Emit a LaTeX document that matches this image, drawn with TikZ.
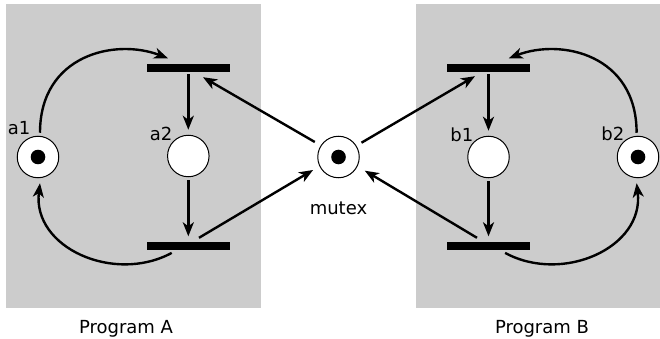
\documentclass[tikz,border=0pt]{standalone}
\usepackage{fontspec}
\setmainfont{DejaVu Sans}
\usetikzlibrary{arrows.meta,calc}
\definecolor{panel}{RGB}{204,204,204}
\begin{document}
\begin{tikzpicture}[x=1pt,y=-1pt,
  place/.style={circle,draw=black,line width=1pt,fill=white,minimum size=41.5pt,inner sep=0pt},
  token/.style={circle,fill=black,minimum size=14.6pt,inner sep=0pt},
  trans/.style={rectangle,fill=black,minimum width=83pt,minimum height=8pt,inner sep=0pt},
  arc/.style={line width=2.4pt,-{Stealth[length=14pt,width=11pt,inset=4pt]}},
  lbl/.style={font=\fontsize{18}{21}\selectfont,inner sep=0pt},
  bgbox/.style={fill=panel,draw=none}]
\useasboundingbox (0,0) rectangle (660,339);
\fill[bgbox] (6,4) rectangle (261,308);
\fill[bgbox] (416,4) rectangle (660,308);
% places
\node[place] (a1) at (38,157) {};
\node[token] (a1t) at (a1) {};
\node[place] (a2) at (188.3,156) {};
\node[place] (mx) at (338.5,157) {};
\node[token] (mxt) at (mx) {};
\node[place] (b1) at (488.5,157) {};
\node[place] (b2) at (638,157) {};
\node[token] (b2t) at (b2) {};
% transitions
\node[trans] (ta1) at (188.3,68.2) {};
\node[trans] (ta2) at (188.3,245.5) {};
\node[trans] (tb1) at (488.5,68.2) {};
\node[trans] (tb2) at (488.5,245.5) {};
% labels
\node[lbl,anchor=base east] (la1) at (30.5,135) {a1};
\node[lbl,anchor=base east] (la2) at (172.5,141) {a2};
\node[lbl,anchor=base east] (lb1) at (473.5,142) {b1};
\node[lbl,anchor=base east] (lb2) at (624.5,141) {b2};
\node[lbl,anchor=base] (lmx) at (338.5,214) {mutex};
\node[lbl,anchor=base] (lpa) at (126,333) {Program A};
\node[lbl,anchor=base] (lpb) at (542,333) {Program B};
% vertical arcs
\draw[arc,shorten <=2pt,shorten >=5pt] (ta1.south) -- (a2.north);
\draw[arc,shorten <=3pt,shorten >=5pt] (a2.south) -- (ta2.north);
\draw[arc,shorten <=2pt,shorten >=5pt] (tb1.south) -- (b1.north);
\draw[arc,shorten <=3pt,shorten >=5pt] (b1.south) -- (tb2.north);
% mutex arcs
\coordinate (m1) at ($(mx)+(-23.7,-15)$);
\coordinate (m2) at ($(mx)+(-25.4,13)$);
\coordinate (m3) at ($(mx)+(23,-14.3)$);
\coordinate (m4) at ($(mx)+(26.3,13.7)$);
\coordinate (ta1in) at ($(ta1.south)+(14.7,4.8)$);
\coordinate (ta2out) at ($(ta2.north)+(10.7,-3.5)$);
\coordinate (tb1in) at ($(tb1.south)+(-13.5,3.8)$);
\coordinate (tb2out) at ($(tb2.north)+(-11.5,-3.5)$);
\draw[arc] (m1) -- (ta1in);
\draw[arc] (ta2out) -- (m2);
\draw[arc] (m3) -- (tb1in);
\draw[arc] (tb2out) -- (m4);
% loop arcs
\coordinate (a1up) at ($(a1.north)+(2,-3)$);
\coordinate (ta1l) at ($(ta1.north)+(-20.3,-5.7)$);
\coordinate (ta2l) at ($(ta2.south)+(-16.6,3.2)$);
\coordinate (a1dn) at ($(a1.south)+(2,5)$);
\draw[arc] (a1up) .. controls (40,55) and (115,38) .. (ta1l);
\draw[arc] (ta2l) .. controls (114.1,284.1) and (32.2,247.7) .. (a1dn);
\coordinate (b2up) at ($(b2.north)+(-1.4,-3)$);
\coordinate (tb1r) at ($(tb1.north)+(20.3,-5.7)$);
\coordinate (tb2r) at ($(tb2.south)+(16.6,3.2)$);
\coordinate (b2dn) at ($(b2.south)+(-1.4,5)$);
\draw[arc] (b2up) .. controls (636.6,55) and (561.6,38) .. (tb1r);
\draw[arc] (tb2r) .. controls (562.5,284.1) and (644.4,247.7) .. (b2dn);
\end{tikzpicture}
\end{document}
